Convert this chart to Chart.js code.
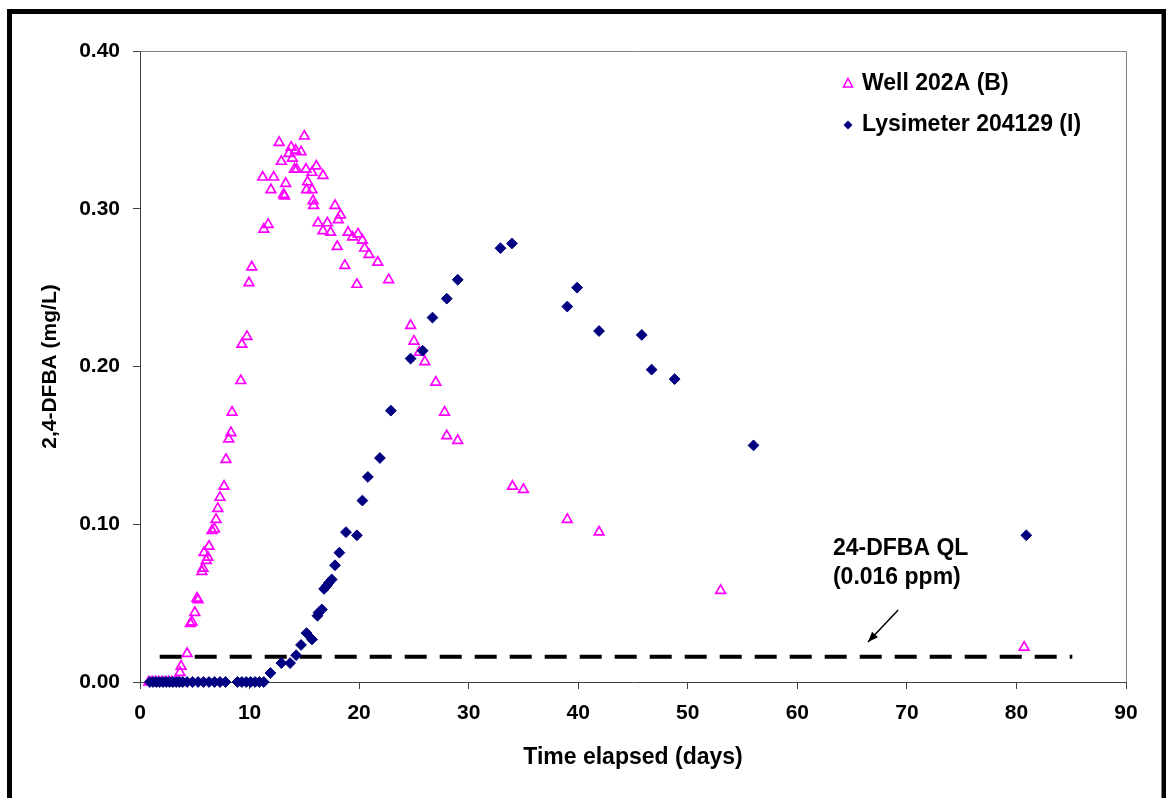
<!DOCTYPE html>
<html lang="en">
<head>
  <meta charset="UTF-8">
  <title>2,4-DFBA breakthrough</title>
  <script src="https://cdn.jsdelivr.net/npm/chart.js@4.4.0/dist/chart.umd.min.js"></script>
  <style>
    html, body { margin: 0; padding: 0; background: #ffffff; }
    #wrap { width: 1166px; height: 798px; }
  </style>
</head>
<body>
  <div id="wrap">
    <canvas id="chart" width="1166" height="798"></canvas>
  </div>

  <script>
    // Well 202A (B)
    const wellDays = [
      0.8, 1.1, 1.4, 1.7, 2.0, 2.3, 2.6, 2.9, 3.2, 3.5,
      3.65, 3.75, 4.3, 4.6, 4.75, 5.0, 5.2, 5.3,
      5.65, 5.75, 5.85, 6.05, 6.2, 6.3, 6.57, 6.8, 6.94, 7.1, 7.3, 7.67,
      7.85, 8.1, 8.3, 8.4, 9.2, 9.3, 9.76, 9.95, 10.2,
      11.3, 11.7, 11.2, 12.2, 11.95, 12.7, 12.9, 13.1, 13.2, 13.3,
      13.6, 13.8, 13.9, 14.1, 14.2, 14.3, 14.7, 15.0, 15.15, 15.2, 15.3,
      15.7, 15.7, 15.8, 15.85, 16.1, 16.25, 16.7, 16.7, 17.1, 17.4,
      17.8, 18.0, 18.1, 18.3, 18.7, 19.0, 19.4, 19.8, 19.9, 20.3, 20.5, 20.9,
      21.7, 22.7, 24.7, 25.0, 25.5, 26.0, 27.0, 27.8, 28.0, 29.0,
      34.0, 35.0, 39.0, 41.9, 53.0, 80.7
    ];
    const wellConc = [
      0, 0, 0, 0, 0, 0, 0, 0, 0, 0,
      0.006, 0.010, 0.018, 0.037, 0.038, 0.044, 0.053, 0.052,
      0.070, 0.072, 0.082, 0.077, 0.079, 0.086, 0.096, 0.097, 0.103, 0.110, 0.117, 0.124,
      0.141, 0.154, 0.158, 0.171, 0.191, 0.214, 0.219, 0.253, 0.263,
      0.287, 0.290, 0.320, 0.320, 0.312, 0.342, 0.330, 0.309, 0.308, 0.316,
      0.335, 0.339, 0.332, 0.325, 0.337, 0.325, 0.336, 0.346, 0.325, 0.312, 0.317,
      0.323, 0.312, 0.305, 0.302, 0.327, 0.291, 0.321, 0.286, 0.291, 0.285,
      0.302, 0.276, 0.293, 0.296, 0.264, 0.285, 0.282, 0.252, 0.284, 0.280, 0.275, 0.271,
      0.266, 0.255, 0.226, 0.216, 0.209, 0.203, 0.190, 0.171, 0.156, 0.153,
      0.124, 0.122, 0.103, 0.095, 0.058, 0.022
    ];

    // Lysimeter 204129 (I)
    const lysDays = [
      0.9, 1.2, 1.5, 1.8, 2.1, 2.4, 2.7, 3.0, 3.3, 3.6, 3.9, 4.3, 4.8,
      5.3, 5.8, 6.3, 6.8, 7.3, 7.8, 8.9, 9.3, 9.7, 10.1, 10.5, 10.9, 11.3,
      11.9, 12.9, 13.7, 14.25, 14.7, 15.2, 15.7, 16.2, 16.3, 16.6, 16.8,
      17.05, 17.25, 17.5, 17.8, 18.2, 18.8, 19.8, 20.3, 20.8, 21.9, 22.9,
      24.7, 25.8, 26.7, 28.0, 29.0, 32.9, 33.95, 39.0, 39.9, 41.9,
      45.8, 46.7, 48.8, 56.0, 80.9
    ];
    const lysConc = [
      0, 0, 0, 0, 0, 0, 0, 0, 0, 0, 0, 0, 0,
      0, 0, 0, 0, 0, 0, 0, 0, 0, 0, 0, 0, 0,
      0.0057, 0.012, 0.012, 0.017, 0.0235, 0.031, 0.027, 0.042, 0.044, 0.046, 0.059,
      0.061, 0.063, 0.065, 0.074, 0.082, 0.095, 0.093, 0.115, 0.130, 0.142, 0.172,
      0.205, 0.210, 0.231, 0.243, 0.255, 0.275, 0.278, 0.238, 0.250, 0.2225,
      0.220, 0.198, 0.192, 0.150, 0.093
    ];

    // quantitation limit line
    const qlDays = [1.8, 85.1];
    const qlValue = 0.016;

    const xTicks = [0, 10, 20, 30, 40, 50, 60, 70, 80, 90];
    const yTicks = [0, 0.1, 0.2, 0.3, 0.4];

    const seriesNames = ['Well 202A (B)', 'Lysimeter 204129 (I)'];

    const toPoints = (xs, ys) => xs.map((x, i) => ({ x: x, y: ys[i] }));

    const MAGENTA = '#FF00FF';
    const NAVY = '#000080';
    const FONT = 'Arial, "Liberation Sans", sans-serif';

    // white page, outer frame, plot box, legend and QL note
    const decorations = {
      id: 'decorations',
      beforeDraw(chart) {
        const ctx = chart.ctx;
        ctx.save();
        ctx.fillStyle = '#ffffff';
        ctx.fillRect(0, 0, chart.width, chart.height);
        ctx.restore();
      },
      afterDraw(chart) {
        const ctx = chart.ctx;
        const area = chart.chartArea;
        const xs = chart.scales.x;
        const ys = chart.scales.y;
        ctx.save();

        // plot box (top and right)
        ctx.strokeStyle = '#808080';
        ctx.lineWidth = 1;
        ctx.beginPath();
        ctx.moveTo(area.left, area.top + 0.5);
        ctx.lineTo(area.right + 0.5, area.top + 0.5);
        ctx.lineTo(area.right + 0.5, area.bottom);
        ctx.stroke();

        // outer frame
        ctx.strokeStyle = '#000000';
        ctx.lineWidth = 5;
        ctx.strokeRect(9.5, 11.5, 1154.5, 820);

        // legend
        ctx.font = 'bold 23px ' + FONT;
        ctx.textBaseline = 'middle';
        ctx.fillStyle = '#000000';
        ctx.fillText(seriesNames[0], 862, 84);
        ctx.fillText(seriesNames[1], 862, 125);

        ctx.strokeStyle = MAGENTA;
        ctx.lineWidth = 1.6;
        ctx.beginPath();
        ctx.moveTo(848, 78.5);
        ctx.lineTo(852.5, 87);
        ctx.lineTo(843.5, 87);
        ctx.closePath();
        ctx.stroke();

        ctx.fillStyle = NAVY;
        ctx.beginPath();
        ctx.moveTo(848, 120.5);
        ctx.lineTo(852.5, 125);
        ctx.lineTo(848, 129.5);
        ctx.lineTo(843.5, 125);
        ctx.closePath();
        ctx.fill();

        // QL note and arrow, anchored on the data scales
        ctx.fillStyle = '#000000';
        ctx.font = 'bold 23px ' + FONT;
        const tx = xs.getPixelForValue(63.25);
        ctx.fillText('24-DFBA QL', tx, ys.getPixelForValue(0.0844));
        ctx.fillText('(0.016 ppm)', tx, ys.getPixelForValue(0.0660));

        const ax0 = xs.getPixelForValue(69.2), ay0 = ys.getPixelForValue(0.0456);
        const ax1 = xs.getPixelForValue(66.45), ay1 = ys.getPixelForValue(0.0254);
        ctx.strokeStyle = '#000000';
        ctx.lineWidth = 1.5;
        ctx.beginPath();
        ctx.moveTo(ax0, ay0);
        ctx.lineTo(ax1, ay1);
        ctx.stroke();
        const ang = Math.atan2(ay1 - ay0, ax1 - ax0);
        const head = 11, spread = 0.38;
        ctx.beginPath();
        ctx.moveTo(ax1, ay1);
        ctx.lineTo(ax1 - head * Math.cos(ang - spread), ay1 - head * Math.sin(ang - spread));
        ctx.lineTo(ax1 - head * Math.cos(ang + spread), ay1 - head * Math.sin(ang + spread));
        ctx.closePath();
        ctx.fill();

        ctx.restore();
      }
    };

    const ctx = document.getElementById('chart').getContext('2d');
    new Chart(ctx, {
      type: 'scatter',
      data: {
        datasets: [
          {
            label: seriesNames[0],
            data: toPoints(wellDays, wellConc),
            pointStyle: 'triangle',
            pointRadius: 5.6,
            pointHoverRadius: 5.6,
            borderColor: MAGENTA,
            backgroundColor: 'rgba(0,0,0,0)',
            pointBorderWidth: 1.7,
            clip: false,
            order: 2
          },
          {
            label: seriesNames[1],
            data: toPoints(lysDays, lysConc),
            pointStyle: 'rectRot',
            pointRadius: 5.4,
            pointHoverRadius: 5.4,
            borderColor: NAVY,
            backgroundColor: NAVY,
            pointBorderWidth: 1,
            clip: false,
            order: 1
          },
          {
            label: 'QL',
            data: qlDays.map(d => ({ x: d, y: qlValue })),
            showLine: true,
            borderColor: '#000000',
            borderWidth: 4,
            borderDash: [22, 13],
            borderCapStyle: 'butt',
            pointRadius: 0,
            pointHoverRadius: 0,
            order: 3
          }
        ]
      },
      options: {
        responsive: false,
        animation: false,
        devicePixelRatio: 1,
        layout: { padding: { top: 51, right: 40, left: 0, bottom: 0 } },
        plugins: {
          legend: { display: false },
          tooltip: { enabled: false }
        },
        scales: {
          x: {
            type: 'linear',
            min: 0,
            max: 90,
            afterBuildTicks: s => { s.ticks = xTicks.map(v => ({ value: v })); },
            afterFit: s => { s.height = 116; },
            ticks: {
              color: '#000000',
              font: { family: FONT, size: 21, weight: 'bold' },
              padding: 12,
              maxRotation: 0
            },
            grid: {
              drawOnChartArea: false,
              drawTicks: true,
              tickLength: 7,
              color: '#404040'
            },
            border: { display: true, color: '#404040', width: 1 },
            title: {
              display: true,
              text: 'Time elapsed (days)',
              color: '#000000',
              font: { family: FONT, size: 23, weight: 'bold' },
              padding: { top: 0, bottom: 27 }
            }
          },
          y: {
            type: 'linear',
            min: 0,
            max: 0.4,
            afterBuildTicks: s => { s.ticks = yTicks.map(v => ({ value: v })); },
            afterFit: s => { s.width = 140; },
            ticks: {
              color: '#000000',
              font: { family: FONT, size: 21, weight: 'bold' },
              padding: 13,
              callback: v => Number(v).toFixed(2)
            },
            grid: {
              drawOnChartArea: false,
              drawTicks: true,
              tickLength: 7,
              color: '#404040'
            },
            border: { display: true, color: '#404040', width: 1 },
            title: {
              display: true,
              text: '2,4-DFBA (mg/L)',
              color: '#000000',
              font: { family: FONT, size: 21, weight: 'bold' },
              padding: { top: 38, bottom: 0 }
            }
          }
        }
      },
      plugins: [decorations]
    });
  </script>
</body>
</html>
